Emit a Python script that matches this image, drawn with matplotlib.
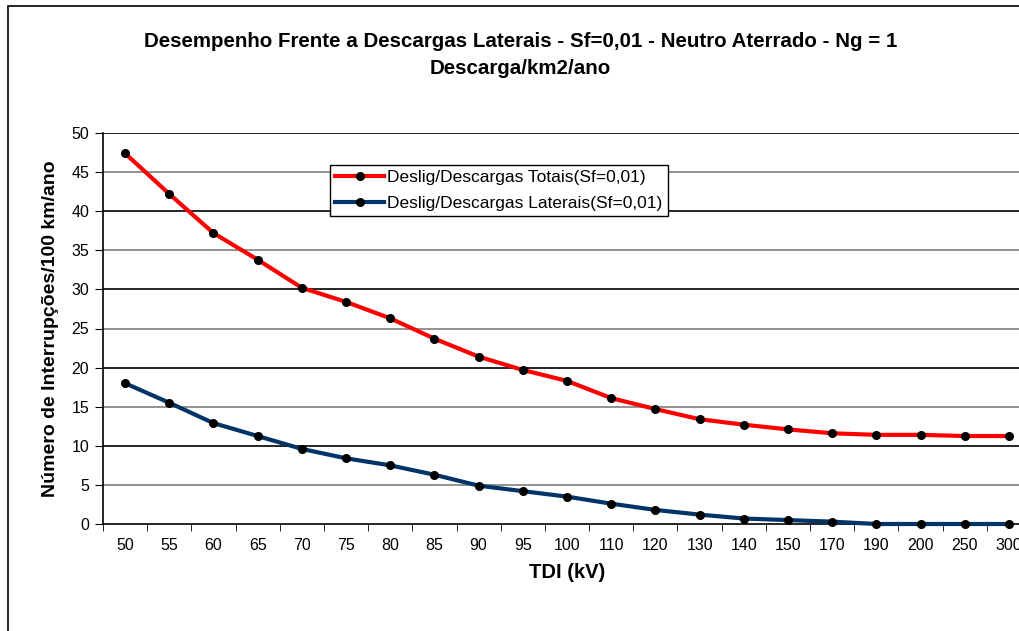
import numpy as np
import matplotlib.pyplot as plt
from matplotlib.patches import Rectangle

plt.rcParams['font.family'] = ['Liberation Sans', 'DejaVu Sans']

tdi = ['50', '55', '60', '65', '70', '75', '80', '85', '90', '95', '100',
       '110', '120', '130', '140', '150', '170', '190', '200', '250', '300']
totais = [47.4, 42.2, 37.2, 33.8, 30.2, 28.4, 26.3, 23.7, 21.4, 19.7, 18.3,
          16.1, 14.7, 13.4, 12.7, 12.1, 11.6, 11.4, 11.4, 11.25, 11.25]
laterais = [18.0, 15.5, 12.9, 11.25, 9.6, 8.4, 7.5, 6.3, 4.9, 4.2, 3.5,
            2.6, 1.8, 1.2, 0.7, 0.5, 0.3, 0.0, 0.0, 0.0, 0.0]

fig = plt.figure(figsize=(10.2, 6.31), dpi=100)
ax = fig.add_axes([103/1020, 107/631, (1031-103)/1020, (524-133)/631])

x = np.arange(len(tdi))
ax.plot(x, totais, color='#ff0000', lw=3, marker='o', ms=5.5,
        mfc='black', mec='black', label='Deslig/Descargas Totais(Sf=0,01)', zorder=3, clip_on=False)
ax.plot(x, laterais, color='#003366', lw=3, marker='o', ms=5.5,
        mfc='black', mec='black', label='Deslig/Descargas Laterais(Sf=0,01)', zorder=3, clip_on=False)

ax.set_xlim(-0.5, len(tdi) - 0.5)
ax.set_ylim(0, 50)
ax.set_yticks(np.arange(0, 51, 5))
ax.set_xticks(x)
ax.set_xticklabels(tdi)
ax.set_xticks(np.arange(-0.5, len(tdi), 1), minor=True)
ax.tick_params(axis='x', which='major', length=0, pad=10, labelsize=11.5)
ax.tick_params(axis='x', which='minor', length=5, direction='out')
ax.tick_params(axis='y', length=6, direction='out', labelsize=11.5, pad=4)

for i, v in enumerate(range(5, 51, 5)):
    ax.axhline(v, color='black' if i % 2 == 1 else '#808080', lw=1.2, zorder=1)

for s in ['top', 'right']:
    ax.spines[s].set_visible(False)
ax.spines['left'].set_linewidth(1.2)
ax.spines['bottom'].set_linewidth(1.2)

ax.set_xlabel('TDI (kV)', fontsize=14.5, fontweight='bold', labelpad=7)
ax.set_ylabel('Número de Interrupções/100 km/ano', fontsize=14, fontweight='bold', labelpad=9)

fig.text(0.51, 0.935, 'Desempenho Frente a Descargas Laterais - Sf=0,01 - Neutro Aterrado - Ng = 1',
         ha='center', va='center', fontsize=14.8, fontweight='bold')
fig.text(0.51, 0.892, 'Descarga/km2/ano', ha='center', va='center', fontsize=14.8, fontweight='bold')

leg = ax.legend(loc='upper left', bbox_to_anchor=((330-103)/928, (524-165)/391), fontsize=12.5,
                frameon=True, fancybox=False, edgecolor='black', framealpha=1,
                borderpad=0.3, handlelength=2.8, handletextpad=0.2, labelspacing=0.6,
                borderaxespad=0)
leg.get_frame().set_linewidth(1)

fig.patches.append(Rectangle((8/1020, -0.1), 1.2, (631-6)/631 + 0.1, transform=fig.transFigure,
                             fill=False, edgecolor='black', lw=1.2))

fig.savefig('out.png', dpi=100)
